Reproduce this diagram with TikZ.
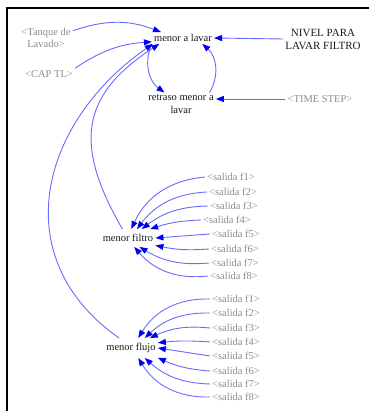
\documentclass[tikz,border=0pt]{standalone}
\usepackage{fontspec}
\setmainfont{Liberation Serif}
\usetikzlibrary{arrows.meta}
\definecolor{vsInk}{HTML}{1A1A1A}
\definecolor{vsGrey}{HTML}{8C8C8C}
\definecolor{vsBlue}{HTML}{6A6AFA}
\definecolor{vsHead}{HTML}{0000EE}
\tikzset{
  varnode/.style={
    font=\fontsize{10.5}{12.6}\selectfont, text=vsInk,
    inner sep=2pt, align=center
  },
  ghost/.style={varnode, text=vsGrey},
  link/.style={-{Triangle[length=8pt, width=6pt, color=vsHead]}, line width=0.9pt, draw=vsBlue},
}

\begin{document}
\begin{tikzpicture}[x=1pt, y=1pt]
  \useasboundingbox (0,0) rectangle (369,411);
  \draw[line width=2pt] (7,0) -- (7,403) -- (369,403);

  \node[varnode] (lav) at (183,373) {menor a lavar};
  \node[ghost]   (tan) at (46,373)  {<Tanque de\\Lavado>};
  \node[varnode, font=\fontsize{11}{13}\selectfont] (niv) at (323,372) {NIVEL PARA\\LAVAR FILTRO};
  \node[ghost]   (cap) at (49,337)  {<CAP TL>};
  \node[varnode] (ret) at (181,307) {retraso menor a\\lavar};
  \node[ghost]   (ts)  at (320,312) {<TIME STEP>};
  \node[varnode, inner ysep=5pt] (fil) at (128,173) {menor filtro};
  \node[varnode, inner ysep=5pt] (flu) at (131,63)  {menor flujo};

  \foreach \i/\xx/\yy in {1/205/234, 2/207/219, 3/208/205, 4/201/191, 5/210/177, 6/209/162, 7/209/148, 8/208/135}
    \node[ghost, anchor=west] (sf\i) at (\xx,\yy) {<salida f\i>};
  \foreach \i/\yy in {1/112, 2/98, 3/83, 4/69, 5/55, 6/40, 7/27, 8/14}
    \node[ghost, anchor=west] (sq\i) at (210,\yy) {<salida f\i>};

  \draw[link] (tan.15) to[bend left=20] (lav.165);
  \draw[link] (cap.north east) to[bend left=15] (lav.187);
  \draw[link] (niv.west) -- (lav.east);
  \draw[link] (lav.south west) to[bend right=40] (ret.145);
  \draw[link] (ret.22) to[bend right=40] (lav.-17);
  \draw[link] (ts.west) -- (ts.west -| ret.east);
  \draw[link] (fil.122) to[out=120, in=213, looseness=1.3] (lav.194);
  \draw[link] (flu.140) to[out=145, in=215, looseness=1.2] (lav.191);

  \foreach \i/\ang/\bnd in {1/70/-30, 2/45/-25, 3/33/-18, 4/22/-8, 5/0/0, 6/-15/8, 7/-38/18, 8/-55/28}
    \draw[link] (sf\i.west) to[bend left=\bnd] (fil.\ang);
  \foreach \i/\ang/\bnd in {1/54/-30, 2/36/-22, 3/28/-15, 4/11/-5, 5/0/0, 6/-20/10, 7/-36/20, 8/-54/30}
    \draw[link] (sq\i.west) to[bend left=\bnd] (flu.\ang);
\end{tikzpicture}
\end{document}
